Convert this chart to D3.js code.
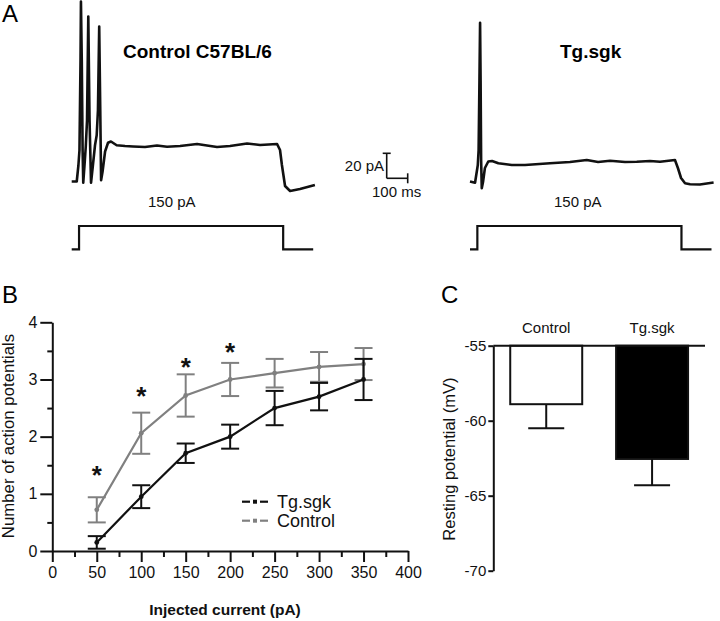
<!DOCTYPE html>
<html><head><meta charset="utf-8">
<script src="https://cdn.jsdelivr.net/npm/d3@7"></script>
<style>body{margin:0;background:#fff} svg{display:block;font-family:"Liberation Sans",Arial,sans-serif}</style>
</head><body><svg id="c" width="720" height="621"></svg>
<script>
// ---------- Panel B data ----------
const currents = [50, 100, 150, 200, 250, 300, 350];
const controlMean = [0.72, 2.06, 2.72, 3.00, 3.11, 3.22, 3.27];
const controlSem  = [0.22, 0.36, 0.37, 0.29, 0.25, 0.26, 0.28];
const tgMean = [0.15, 0.95, 1.71, 2.00, 2.50, 2.70, 3.00];
const tgSem  = [0.11, 0.20, 0.17, 0.21, 0.30, 0.24, 0.36];
const sigCurrents = [50, 100, 150, 200];
const sigLevel = [1.42, 2.79, 3.31, 3.57];
const xTicksB = [0, 50, 100, 150, 200, 250, 300, 350, 400];
const xMinorB = [25, 75, 125, 175, 225, 275, 325, 375];
const yTicksB = [0, 1, 2, 3, 4];
const yMinorB = [0.5, 1.5, 2.5, 3.5];
const seriesNames = ["Tg.sgk", "Control"];

// ---------- Panel C data ----------
const groupsC = ["Control", "Tg.sgk"];
const restMean = [-58.9, -62.55];
const restSem = [1.6, 1.75];
const yTicksC = [-55, -60, -65, -70];

// ---------- Panel A data (time ms, membrane value) ----------
const controlTrace = [[0,-70],[24,-70],[32,-57],[37,-45],[42,27],[44,74],[48,27],[52,-45],[55,-71],[61,-57],[67,-42],[73,-21],[79,62],[85,-21],[92,-71],[101,-57],[111,-41],[119,-33],[125,-13],[131,54],[136,-13],[140,-69],[147,-62],[159,-46],[173,-39],[187,-38],[214,-41],[254,-41.6],[292,-42],[349,-42.4],[406,-41.2],[454,-42.2],[516,-41.6],[597,-40],[644,-41.2],[692,-42.4],[754,-41.6],[835,-39.6],[897,-40.8],[978,-40],[992,-44.8],[1001,-56.8],[1016,-73.6],[1040,-77.6],[1087,-76],[1158,-72.8]];
const tgTrace = [[0,-70],[24,-71],[37,-57],[41,-45],[45,11],[48,57],[50.5,11],[53,-53],[56,-75.4],[62,-70.4],[71,-59.2],[87,-54],[105,-53.6],[135,-55.4],[199,-56.8],[262,-56.8],[381,-55.4],[476,-54.4],[556,-52.8],[610,-54.4],[667,-53.4],[738,-54.4],[794,-54.2],[857,-53.6],[905,-54.2],[976,-52.8],[990,-59.2],[1005,-67.2],[1024,-71.4],[1048,-72.2],[1095,-72.4],[1160,-70.8]];
const stimTimes = [0, 35, 35, 1007, 1007, 1150];
const stimAmps  = [0, 0, 150, 150, 0, 0];
const stimLabel = "150 pA";
const traceTitles = ["Control C57BL/6", "Tg.sgk"];
const scaleBar = {v: 20, t: 100, vLabel: "20 pA", tLabel: "100 ms"};

const svg = d3.select("#c");
const FONT = '"Liberation Sans",Arial,sans-serif';

// ---------- Panel labels ----------
svg.append("text").attr("x", 2).attr("y", 22).attr("font-size", 24).text("A");
svg.append("text").attr("x", 2).attr("y", 303).attr("font-size", 24).text("B");
svg.append("text").attr("x", 441).attr("y", 303).attr("font-size", 24).text("C");

// ---------- Panel A ----------
const vScale = d3.scaleLinear().domain([-70, -50]).range([181.5, 156.5]);
const sScale = d3.scaleLinear().domain([0, 150]).range([249.3, 226]);
const traceLefts = [71.7, 470];
const traces = [controlTrace, tgTrace];
const titleX = [123, 560];
const stimLabelX = [148, 554];
traces.forEach((tr, i) => {
  const tScale = d3.scaleLinear().domain([0, 1150]).range([traceLefts[i], traceLefts[i] + 1150 * 0.21]);
  const line = d3.line().x(d => tScale(d[0])).y(d => vScale(d[1]));
  svg.append("path").attr("d", line(tr)).attr("fill", "none").attr("stroke", "#111")
    .attr("stroke-width", 2.6).attr("stroke-linejoin", "round");
  const stim = stimTimes.map((t, k) => [t, stimAmps[k]]);
  const sline = d3.line().x(d => tScale(d[0])).y(d => sScale(d[1]));
  svg.append("path").attr("d", sline(stim)).attr("fill", "none").attr("stroke", "#111").attr("stroke-width", 2.2);
  svg.append("text").attr("x", titleX[i]).attr("y", 58.3).attr("font-size", 19).attr("font-weight", "bold").text(traceTitles[i]);
  svg.append("text").attr("x", stimLabelX[i]).attr("y", 206.5).attr("font-size", 15).attr("fill", "#111").text(stimLabel);
});
// scale bar
{
  const t0 = d3.scaleLinear().domain([0, 100]).range([386.7, 386.7 + 100 * 0.21]);
  const yb = 178.3;
  const top = yb - (vScale(-70) - vScale(-70 + scaleBar.v));
  const g = svg.append("g").attr("stroke", "#111").attr("stroke-width", 1.6);
  g.append("line").attr("x1", t0(0)).attr("x2", t0(0)).attr("y1", top).attr("y2", yb);
  g.append("line").attr("x1", t0(0) - 4).attr("x2", t0(0) + 4).attr("y1", top).attr("y2", top);
  g.append("line").attr("x1", t0(0)).attr("x2", t0(scaleBar.t)).attr("y1", yb).attr("y2", yb);
  g.append("line").attr("x1", t0(scaleBar.t)).attr("x2", t0(scaleBar.t)).attr("y1", yb - 5).attr("y2", yb + 5);
  svg.append("text").attr("x", 384).attr("y", 171).attr("text-anchor", "end").attr("font-size", 15).attr("fill", "#111").text(scaleBar.vLabel);
  svg.append("text").attr("x", 372).attr("y", 196.5).attr("font-size", 15).attr("fill", "#111").text(scaleBar.tLabel);
}

// ---------- Panel B ----------
const xB = d3.scaleLinear().domain([0, 400]).range([52.3, 408]);
const yB = d3.scaleLinear().domain([0, 4]).range([551, 322.3]);
function styleAxis(g) {
  g.selectAll("path,line").attr("stroke", "#111").attr("stroke-width", 2);
  g.selectAll("text").attr("font-family", FONT).attr("fill", "#111");
}
const plain = d => String(d);
svg.append("g").attr("transform", `translate(0,${yB(0)})`)
  .call(d3.axisBottom(xB).tickValues(xMinorB).tickSize(6).tickSizeOuter(0).tickFormat(""))
  .call(styleAxis).select(".domain").remove();
svg.append("g").attr("transform", `translate(0,${yB(0)})`)
  .call(d3.axisBottom(xB).tickValues(xTicksB).tickSize(11).tickSizeOuter(0).tickPadding(5).tickFormat(plain))
  .call(styleAxis).call(g => g.selectAll("text").attr("font-size", 16));
svg.append("g").attr("transform", `translate(${xB(0)},0)`)
  .call(d3.axisLeft(yB).tickValues(yMinorB).tickSize(5).tickSizeOuter(0).tickFormat(""))
  .call(styleAxis).select(".domain").remove();
svg.append("g").attr("transform", `translate(${xB(0)},0)`)
  .call(d3.axisLeft(yB).tickValues(yTicksB).tickSize(12).tickSizeOuter(0).tickPadding(3).tickFormat(plain))
  .call(styleAxis).call(g => g.selectAll("text").attr("font-size", 16));

svg.append("text").attr("x", 225).attr("y", 615).attr("text-anchor", "middle")
  .attr("font-size", 15.5).attr("font-weight", "bold").attr("fill", "#111").text("Injected current (pA)");
svg.append("text").attr("transform", "translate(14,436) rotate(-90)").attr("text-anchor", "middle")
  .attr("font-size", 16.8).attr("fill", "#111").text("Number of action potentials");

const seriesB = [
  {name: seriesNames[1], mean: controlMean, sem: controlSem, color: "#808080"},
  {name: seriesNames[0], mean: tgMean, sem: tgSem, color: "#111"}
];
seriesB.forEach(s => {
  const pts = currents.map((c, i) => ({c, m: s.mean[i], e: s.sem[i]}));
  const g = svg.append("g");
  g.append("path").attr("d", d3.line().x(d => xB(d.c)).y(d => yB(d.m))(pts))
    .attr("fill", "none").attr("stroke", s.color).attr("stroke-width", 2.2);
  const eb = g.selectAll(".eb").data(pts).enter().append("g").attr("stroke", s.color).attr("stroke-width", 2);
  eb.append("line").attr("x1", d => xB(d.c)).attr("x2", d => xB(d.c)).attr("y1", d => yB(d.m - d.e)).attr("y2", d => yB(d.m + d.e));
  eb.append("line").attr("x1", d => xB(d.c) - 9).attr("x2", d => xB(d.c) + 9).attr("y1", d => yB(d.m + d.e)).attr("y2", d => yB(d.m + d.e));
  eb.append("line").attr("x1", d => xB(d.c) - 9).attr("x2", d => xB(d.c) + 9).attr("y1", d => yB(d.m - d.e)).attr("y2", d => yB(d.m - d.e));
  g.selectAll(".pt").data(pts).enter().append("circle").attr("cx", d => xB(d.c)).attr("cy", d => yB(d.m)).attr("r", 2.4).attr("fill", s.color);
});
sigCurrents.forEach((c, i) => {
  svg.append("text").attr("x", xB(c)).attr("y", yB(sigLevel[i]) + 14).attr("text-anchor", "middle")
    .attr("font-size", 26).attr("font-weight", "bold").attr("fill", "#111").text("*");
});
// legend
[{name: seriesNames[0], color: "#111", y: 501.7}, {name: seriesNames[1], color: "#808080", y: 520.7}].forEach(l => {
  const g = svg.append("g");
  g.append("line").attr("x1", 242).attr("x2", 250).attr("y1", l.y).attr("y2", l.y).attr("stroke", l.color).attr("stroke-width", 2.2);
  g.append("line").attr("x1", 260).attr("x2", 268).attr("y1", l.y).attr("y2", l.y).attr("stroke", l.color).attr("stroke-width", 2.2);
  g.append("rect").attr("x", 253).attr("y", l.y - 2).attr("width", 4).attr("height", 4).attr("fill", l.color);
  g.append("text").attr("x", 277).attr("y", l.y + 6.5).attr("font-size", 18).attr("fill", "#111").text(l.name);
});

// ---------- Panel C ----------
const xC = d3.scaleBand().domain(groupsC).range([493.3, 705]).paddingInner(0.32).paddingOuter(0.16);
const yC = d3.scaleLinear().domain([-70, -55]).range([570.7, 345.7]);
const fills = ["#fff", "#000"];
groupsC.forEach((g, i) => {
  const x0 = xC(g), w = xC.bandwidth(), cx = x0 + w / 2;
  svg.append("line").attr("x1", cx).attr("x2", cx).attr("y1", yC(restMean[i])).attr("y2", yC(restMean[i] - restSem[i]))
    .attr("stroke", "#111").attr("stroke-width", 2);
  svg.append("line").attr("x1", cx - 18).attr("x2", cx + 18).attr("y1", yC(restMean[i] - restSem[i])).attr("y2", yC(restMean[i] - restSem[i]))
    .attr("stroke", "#111").attr("stroke-width", 2);
  svg.append("rect").attr("x", x0).attr("y", yC(-55)).attr("width", w).attr("height", yC(restMean[i]) - yC(-55))
    .attr("fill", fills[i]).attr("stroke", "#111").attr("stroke-width", 2);
  svg.append("text").attr("x", cx).attr("y", 333).attr("text-anchor", "middle").attr("font-size", 15).attr("fill", "#111").text(g);
});
svg.append("g").attr("transform", `translate(${xC.range()[0]},0)`)
  .call(d3.axisLeft(yC).tickValues(yTicksC).tickSize(5).tickSizeOuter(0).tickPadding(2).tickFormat(plain))
  .call(styleAxis).call(g => g.selectAll("text").attr("font-size", 15));
svg.append("line").attr("x1", 493.3).attr("x2", 705).attr("y1", yC(-55)).attr("y2", yC(-55)).attr("stroke", "#111").attr("stroke-width", 2);
svg.append("text").attr("transform", "translate(455,459) rotate(-90)").attr("text-anchor", "middle")
  .attr("font-size", 16.5).attr("fill", "#111").text("Resting potential (mV)");
</script></body></html>
